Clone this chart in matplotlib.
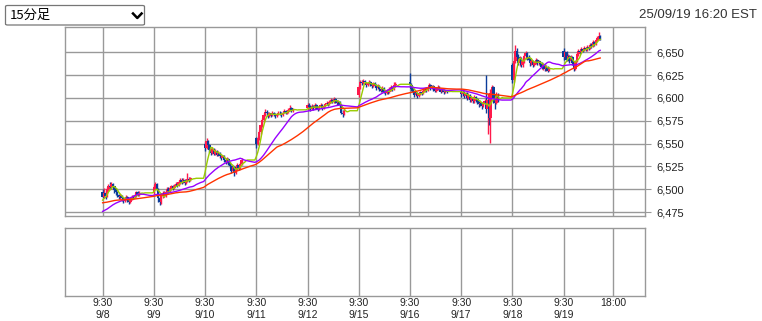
import numpy as np
import pandas as pd
import matplotlib
matplotlib.use("Agg")
import matplotlib.pyplot as plt
from matplotlib.patches import FancyBboxPatch
from matplotlib.lines import Line2D

plt.rcParams['font.family'] = ['Liberation Sans', 'Noto Sans CJK JP', 'DejaVu Sans']

# 15-minute bars, 26 per session (9:30-16:00)
days = ["9/8", "9/9", "9/10", "9/11", "9/12", "9/15", "9/16", "9/17", "9/18", "9/19"]
day_open = [6497, 6496, 6549, 6556, 6589, 6603, 6618, 6607, 6636, 6652]

closes = [
    [6492, 6496, 6493, 6500, 6504, 6502, 6506, 6503, 6499, 6497, 6494, 6491, 6493, 6490, 6487, 6489, 6492, 6488, 6486, 6489, 6492, 6491, 6494, 6497, 6494, 6496],
    [6502, 6506, 6500, 6490, 6486, 6493, 6496, 6493, 6497, 6500, 6498, 6501, 6503, 6501, 6504, 6506, 6504, 6508, 6510, 6508, 6510, 6507, 6509, 6511, 6510, 6512],
    [6545, 6553, 6548, 6543, 6540, 6544, 6539, 6542, 6538, 6540, 6536, 6534, 6536, 6532, 6530, 6533, 6529, 6525, 6520, 6524, 6518, 6522, 6527, 6523, 6528, 6532],
    [6550, 6556, 6563, 6570, 6576, 6581, 6585, 6583, 6580, 6583, 6581, 6584, 6582, 6580, 6582, 6584, 6583, 6581, 6584, 6586, 6584, 6585, 6587, 6589, 6586, 6587],
    [6592, 6590, 6588, 6591, 6589, 6592, 6590, 6588, 6590, 6592, 6589, 6591, 6593, 6595, 6593, 6596, 6598, 6596, 6599, 6597, 6594, 6596, 6592, 6584, 6582, 6586],
    [6612, 6618, 6616, 6619, 6617, 6614, 6616, 6618, 6615, 6613, 6616, 6614, 6611, 6613, 6610, 6608, 6611, 6607, 6605, 6608, 6606, 6610, 6612, 6610, 6614, 6615],
    [6614, 6610, 6606, 6603, 6605, 6602, 6604, 6607, 6605, 6608, 6611, 6609, 6612, 6614, 6611, 6613, 6610, 6608, 6610, 6612, 6610, 6607, 6609, 6606, 6608, 6607],
    [6604, 6607, 6602, 6605, 6600, 6603, 6598, 6600, 6597, 6601, 6599, 6596, 6593, 6595, 6591, 6594, 6597, 6588, 6598, 6578, 6605, 6612, 6600, 6595, 6602, 6600],
    [6620, 6640, 6652, 6645, 6638, 6643, 6636, 6640, 6646, 6649, 6645, 6642, 6638, 6641, 6636, 6639, 6642, 6638, 6640, 6637, 6634, 6636, 6632, 6634, 6630, 6632],
    [6645, 6650, 6642, 6646, 6640, 6645, 6638, 6632, 6640, 6648, 6652, 6650, 6654, 6652, 6655, 6653, 6656, 6655, 6658, 6657, 6661, 6659, 6663, 6666, 6668, 6665],
]
highs = [
    [6500, 6501, 6498, 6502, 6506, 6508, 6508, 6507, 6504, 6501, 6498, 6495, 6495, 6494, 6492, 6492, 6494, 6493, 6490, 6492, 6494, 6494, 6496, 6498, 6498, 6498],
    [6505, 6508, 6507, 6501, 6492, 6495, 6498, 6498, 6499, 6502, 6502, 6503, 6505, 6505, 6506, 6508, 6508, 6510, 6512, 6512, 6512, 6511, 6511, 6518, 6513, 6513],
    [6552, 6556, 6554, 6549, 6545, 6546, 6545, 6544, 6543, 6542, 6541, 6538, 6538, 6537, 6534, 6535, 6534, 6530, 6526, 6526, 6525, 6525, 6529, 6528, 6530, 6534],
    [6557, 6558, 6565, 6572, 6578, 6584, 6588, 6587, 6585, 6585, 6584, 6586, 6585, 6584, 6584, 6586, 6586, 6585, 6586, 6588, 6587, 6587, 6589, 6592, 6590, 6589],
    [6594, 6594, 6592, 6593, 6592, 6594, 6593, 6591, 6592, 6594, 6593, 6593, 6595, 6597, 6596, 6598, 6600, 6599, 6601, 6600, 6598, 6598, 6597, 6593, 6587, 6588],
    [6614, 6620, 6620, 6621, 6620, 6618, 6618, 6620, 6619, 6616, 6618, 6617, 6615, 6615, 6614, 6611, 6613, 6612, 6608, 6610, 6609, 6612, 6614, 6613, 6617, 6617],
    [6627, 6616, 6611, 6608, 6607, 6606, 6605, 6608, 6608, 6609, 6612, 6612, 6613, 6616, 6615, 6614, 6614, 6611, 6611, 6614, 6613, 6611, 6610, 6610, 6609, 6609],
    [6609, 6609, 6608, 6607, 6606, 6605, 6604, 6602, 6601, 6603, 6602, 6600, 6597, 6597, 6596, 6596, 6599, 6625, 6605, 6600, 6610, 6614, 6613, 6604, 6606, 6605],
    [6638, 6645, 6658, 6655, 6648, 6646, 6645, 6644, 6648, 6651, 6650, 6647, 6644, 6643, 6642, 6641, 6644, 6643, 6642, 6641, 6639, 6638, 6637, 6636, 6635, 6634],
    [6655, 6652, 6651, 6648, 6647, 6647, 6646, 6640, 6642, 6650, 6654, 6653, 6656, 6655, 6657, 6656, 6658, 6658, 6660, 6660, 6663, 6662, 6665, 6668, 6672, 6669],
]
lows = [
    [6490, 6490, 6489, 6492, 6498, 6500, 6500, 6500, 6496, 6494, 6492, 6489, 6489, 6487, 6485, 6486, 6488, 6486, 6484, 6485, 6488, 6489, 6490, 6492, 6493, 6493],
    [6495, 6500, 6498, 6486, 6483, 6484, 6490, 6491, 6492, 6495, 6496, 6497, 6499, 6499, 6500, 6503, 6502, 6503, 6506, 6506, 6507, 6505, 6506, 6508, 6508, 6509],
    [6542, 6544, 6546, 6541, 6538, 6539, 6537, 6538, 6536, 6536, 6534, 6532, 6533, 6530, 6528, 6529, 6527, 6523, 6518, 6519, 6515, 6517, 6521, 6521, 6522, 6527],
    [6545, 6548, 6554, 6561, 6568, 6574, 6580, 6580, 6578, 6579, 6579, 6580, 6580, 6578, 6579, 6581, 6581, 6579, 6580, 6583, 6582, 6582, 6584, 6586, 6585, 6585],
    [6587, 6588, 6586, 6587, 6587, 6588, 6588, 6586, 6587, 6589, 6587, 6588, 6590, 6592, 6591, 6592, 6595, 6594, 6595, 6595, 6592, 6593, 6590, 6582, 6579, 6581],
    [6601, 6610, 6614, 6615, 6615, 6612, 6613, 6615, 6613, 6611, 6612, 6612, 6609, 6610, 6608, 6606, 6607, 6605, 6603, 6604, 6604, 6605, 6608, 6608, 6609, 6612],
    [6612, 6608, 6604, 6601, 6602, 6600, 6601, 6603, 6603, 6604, 6607, 6607, 6608, 6611, 6609, 6610, 6608, 6606, 6607, 6609, 6608, 6605, 6606, 6604, 6605, 6605],
    [6601, 6602, 6600, 6600, 6598, 6599, 6596, 6596, 6594, 6595, 6596, 6593, 6590, 6591, 6588, 6590, 6592, 6583, 6560, 6570, 6551, 6600, 6595, 6588, 6593, 6596],
    [6616, 6618, 6638, 6642, 6636, 6635, 6634, 6634, 6638, 6643, 6642, 6640, 6635, 6636, 6634, 6635, 6637, 6636, 6636, 6635, 6632, 6631, 6629, 6630, 6628, 6629],
    [6642, 6644, 6640, 6641, 6638, 6639, 6636, 6630, 6631, 6639, 6646, 6648, 6649, 6650, 6651, 6651, 6652, 6653, 6654, 6655, 6656, 6657, 6658, 6662, 6664, 6663],
]

# moving averages over time slots (window, value at 9/8 open, colour)
ma_windows = [5, 25, 50]
ma_seed = [6487, 6475, 6485]
ma_colors = ["#99cc00", "#9900ff", "#ff3300"]

ytick_vals = [6475, 6500, 6525, 6550, 6575, 6600, 6625, 6650]

SLOTS = 35  # 15-min slots per day on the x axis (9:30 .. 18:15)
UP, DOWN = "#ff1a4b", "#0b3c9a"
GRID = "#999999"

c = np.concatenate(closes).astype(float)
h = np.concatenate(highs).astype(float)
l = np.concatenate(lows).astype(float)
o = np.concatenate([[day_open[d]] + closes[d][:-1] for d in range(len(days))]).astype(float)
h = np.maximum(h, np.maximum(o, c))
l = np.minimum(l, np.minimum(o, c))
x = np.concatenate([d * SLOTS + np.arange(len(closes[d])) for d in range(len(days))])

W, H = 762, 321
fig = plt.figure(figsize=(W / 100, H / 100), dpi=100)


def box(left, top, right, bottom):
    return [left / W, 1 - bottom / H, (right - left) / W, (bottom - top) / H]


ax = fig.add_axes(box(65, 26.5, 645, 215.5))
ax2 = fig.add_axes(box(65, 228, 645, 296))

grid_x = [d * SLOTS for d in range(len(days))] + [(len(days) - 1) * SLOTS + 34]
xlabels = ["9:30\n" + d for d in days] + ["18:00"]

for a in (ax, ax2):
    a.set_xlim(-25.7, 370.6)
    for s in a.spines.values():
        s.set_color(GRID)
        s.set_linewidth(1.0)
    for gx in grid_x:
        a.axvline(gx, color=GRID, lw=1.0, zorder=0)

for gy in ytick_vals:
    ax.axhline(gy, color=GRID, lw=1.0, zorder=0)

# candles
up = c >= o
col = np.where(up, UP, DOWN)
ax.vlines(x, l, h, colors=col, lw=1.0, zorder=2)
ax.bar(x, np.maximum(np.abs(c - o), 1.0), bottom=np.minimum(o, c), width=1.7,
       color=col, linewidth=0, zorder=2)

# moving averages on the slot grid, last close carried through the empty slots
xs = np.arange(x[0], x[-1] + 1)
c_slots = pd.Series(c, index=x).reindex(xs).ffill().to_numpy()
for n, s0, mc in zip(ma_windows, ma_seed, ma_colors):
    ma = pd.Series(np.r_[np.full(n - 1, s0), c_slots]).rolling(n).mean().to_numpy()[n - 1:]
    ax.plot(xs, ma, color=mc, lw=1.0, zorder=3)

ax.set_ylim(6471.2, 6678.3)
ax.yaxis.tick_right()
ax.set_yticks(ytick_vals)
ax.set_yticklabels([f"{v:,}" for v in ytick_vals])
ax.tick_params(axis="y", length=4, color=GRID, labelsize=8, pad=4, labelcolor="#222222")
ax.set_xticks([])

ax2.set_yticks([])
ax2.set_xticks(grid_x)
ax2.set_xticklabels(xlabels, linespacing=1.2)
ax2.tick_params(axis="x", length=0, labelsize=7.5, pad=1.5, labelcolor="#222222")

# period selector and timestamp
fig.add_artist(FancyBboxPatch((5.5 / W, 1 - 25 / H), 139 / W, 19.5 / H,
                              boxstyle="round,pad=0,rounding_size=0.003",
                              transform=fig.transFigure, fc="white", ec="#767676", lw=0.9))
fig.text(10 / W, 1 - 15.5 / H, "15分足", fontsize=9.5, va="center", ha="left",
         family=["Noto Sans CJK JP", "DejaVu Sans"], color="black")
fig.add_artist(Line2D([133 / W, 137.3 / W, 141.6 / W], [1 - 13.5 / H, 1 - 18 / H, 1 - 13.5 / H],
                      transform=fig.transFigure, color="black", lw=1.8))
fig.text(757 / W, 1 - 15 / H, "25/09/19 16:20 EST", fontsize=9.5, ha="right", va="center",
         color="#333333")

fig.savefig("out.png", dpi=100)
